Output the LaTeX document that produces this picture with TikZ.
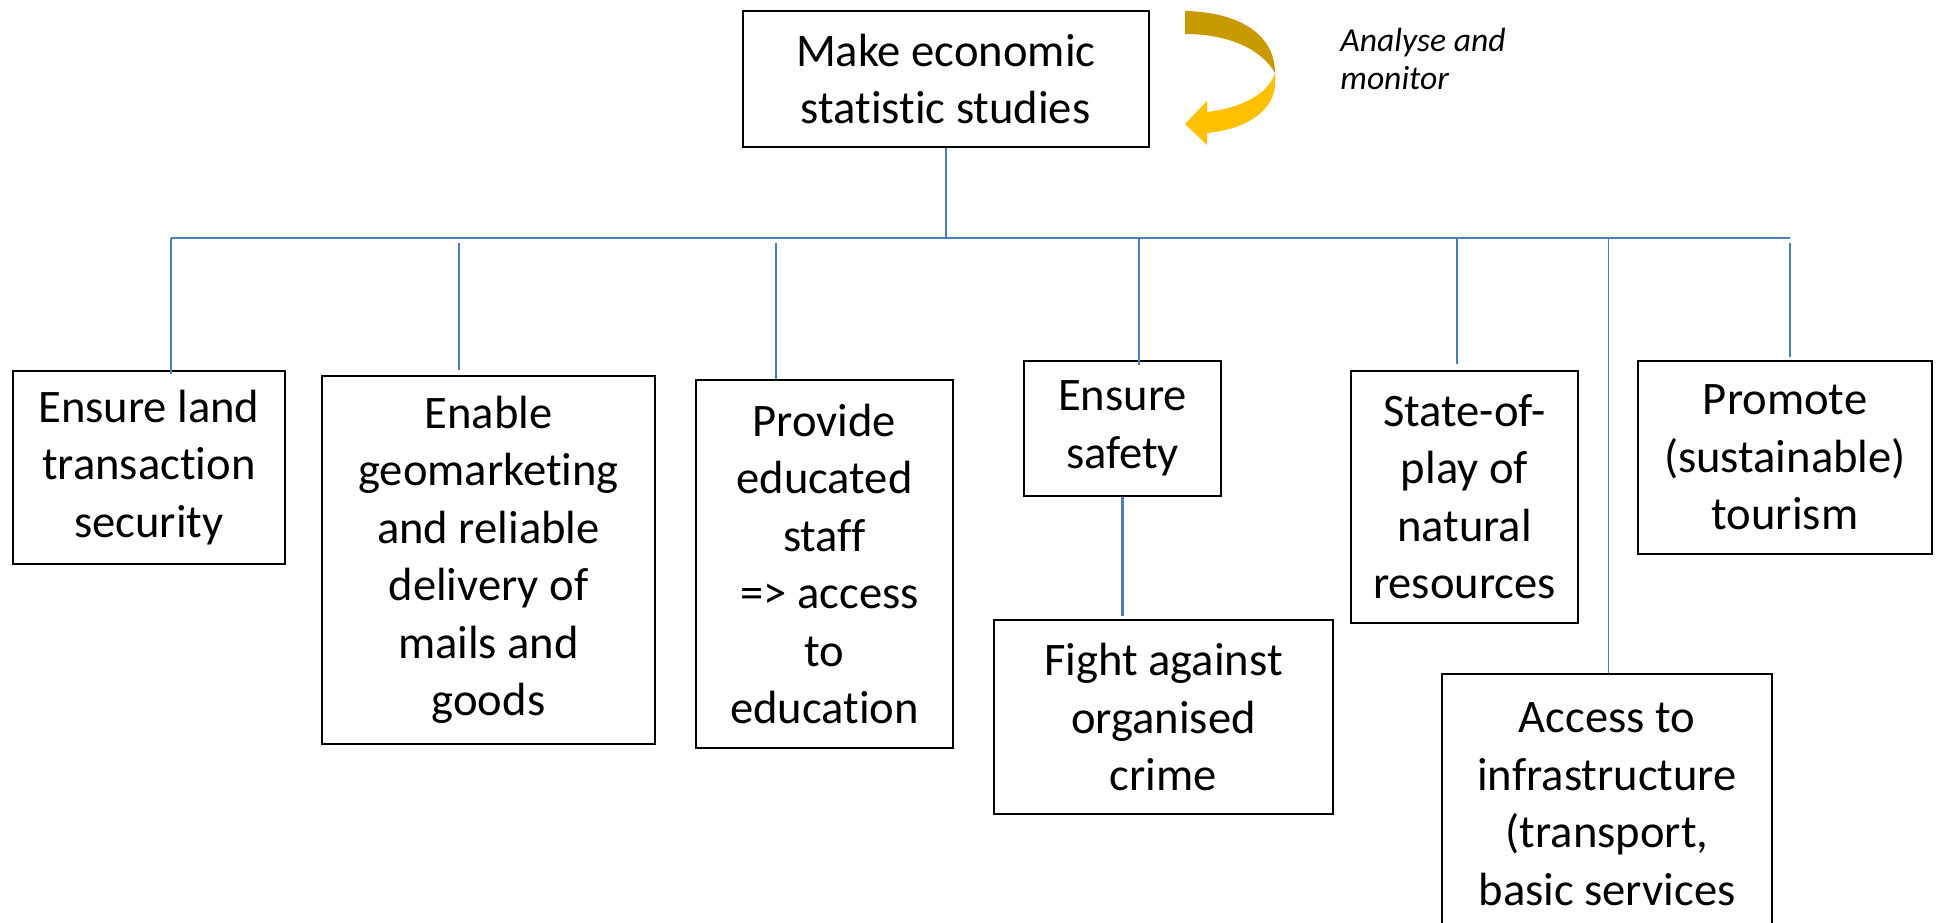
\documentclass[tikz,border=0pt]{standalone}
\usepackage{fontspec}
\setmainfont{Carlito}[Ligatures=NoCommon]
\definecolor{linkblue}{HTML}{4A7EBB}
\definecolor{arrowdark}{HTML}{C99A00}
\definecolor{arrowlight}{HTML}{FFC000}

\begin{document}
\begin{tikzpicture}[
  x=0.5pt, y=-0.5pt,
  box/.style={draw, line width=0.9pt, align=center, inner sep=0pt,
    font=\fontsize{23.3}{28.75}\selectfont},
  link/.style={draw=linkblue, line width=0.85pt}]
  % 画布范围
  \useasboundingbox (0,0) rectangle (1936,922);
  \clip (0,0) rectangle (1936,922);

  % 顶部方框
  \node[box, minimum width=203pt, minimum height=67.85pt] (studies) at (945.7,78.85)
    {Make economic\\statistic studies};

  % 弯曲箭头
  \fill[arrowdark] (1185,11) .. controls (1240,12) and (1275,35) .. (1275,73)
    .. controls (1262,50) and (1230,34) .. (1185,34) -- cycle;
  \fill[arrowlight] (1275,73) -- (1275,86) .. controls (1272,115) and (1240,130) .. (1207,133)
    -- (1207,145) -- (1185,124) -- (1207,101) -- (1207,112)
    .. controls (1240,108) and (1268,95) .. (1275,73) -- cycle;
  \node[anchor=north west, inner sep=0pt, align=left,
    font=\fontsize{16.8}{19}\selectfont\itshape] (analyse) at (1340,28)
    {Analyse and\\monitor};

  % 下层方框
  \node[box, minimum width=136.2pt, minimum height=96.7pt] (land) at (148.9,467.4)
    {Ensure land\\transaction\\security};
  \node[box, minimum width=166.5pt, minimum height=184pt] (geo) at (488.5,560)
    {Enable\\geomarketing\\and reliable\\delivery of\\mails and\\goods};
  \node[box, minimum width=128.7pt, minimum height=184pt] (edu) at (824.4,564)
    {Provide\\educated\\staff\\\hspace*{0.226em}=> access\\to\\education};
  \node[box, minimum width=98.5pt, minimum height=67.5pt] (safety) at (1122.5,428.5)
    {Ensure\\safety};
  \node[box, minimum width=169.5pt, minimum height=97pt] (crime) at (1163.5,717)
    {Fight against\\organised\\crime};
  \node[box, minimum width=113.5pt, minimum height=126pt] (nature) at (1464.5,496.7)
    {State-of-\\play of\\natural\\resources};
  \node[box, minimum width=165pt, minimum height=130pt] (infra) at (1607,804)
    {Access to\\infrastructure\\(transport,\\basic services};
  \node[box, minimum width=147pt, minimum height=96.5pt] (tourism) at (1785,457.5)
    {Promote\\(sustainable)\\tourism};

  % 总线
  \coordinate (busl) at (171,238);
  \coordinate (busr) at (1790,238);
  \draw[link] (studies.south) -- (studies.south |- busl);
  \draw[link] (busl) -- (busr);

  % 分支
  \coordinate (b2) at (459,243.3);
  \coordinate (b3) at (775.7,243.3);
  \coordinate (b4) at (1138.7,238);
  \coordinate (b5) at (1457,238);
  \coordinate (b6) at (1608,238);
  \coordinate (b7) at (1790,243.3);
  \draw[link, shorten >=-2pt] (busl) -- (busl |- land.north);
  \draw[link, shorten >=2.6pt] (b2) -- (b2 |- geo.north);
  \draw[link] (b3) -- (b3 |- edu.north);
  \draw[link, line width=1.2pt, shorten >=-2.5pt] (b4) -- (b4 |- safety.north);
  \draw[link, shorten >=2.8pt] (b5) -- (b5 |- nature.north);
  \draw[link, line width=0.5pt] (b6) -- (b6 |- infra.north);
  \draw[link, shorten >=1.5pt] (b7) -- (b7 |- tourism.north);
  \draw[link, line width=1.1pt, shorten >=1.6pt] (safety.south) -- (safety.south |- crime.north);
\end{tikzpicture}
\end{document}
